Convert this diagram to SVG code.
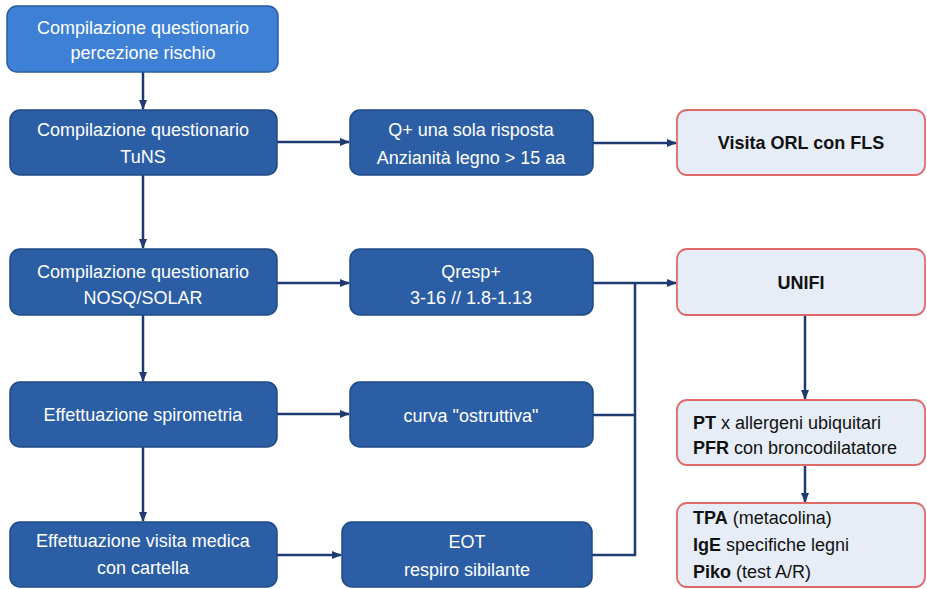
<svg xmlns="http://www.w3.org/2000/svg" width="927" height="589" viewBox="0 0 927 589">
<style>
.dk{fill:#2c5ea5;stroke:#1f4a85;stroke-width:1.5}
.lt{fill:#3e80d6;stroke:#2a5ca3;stroke-width:1.5}
.rd{fill:#e6edf6;stroke:#e06a6a;stroke-width:1.8}
.w{font-family:"Liberation Sans",Arial,sans-serif;font-size:18px;fill:#ffffff;text-anchor:middle}
.b{font-family:"Liberation Sans",Arial,sans-serif;font-size:18px;fill:#111111;text-anchor:middle;font-weight:bold}
.l{font-family:"Liberation Sans",Arial,sans-serif;font-size:18px;fill:#111111}
.l tspan.bb{font-weight:bold}
.c{fill:none;stroke:#1e3a70;stroke-width:2.5}
</style>
<defs>
<marker id="ah" markerUnits="userSpaceOnUse" markerWidth="10" markerHeight="10" viewBox="0 0 10 10" refX="9" refY="5" orient="auto">
<path d="M0,1 L10,5 L0,9 Z" fill="#1e3a70"/>
</marker>
</defs>
<rect width="927" height="589" fill="#ffffff"/>
<g id="connectors">
<line class="c" x1="143" y1="72" x2="143" y2="109" marker-end="url(#ah)"/>
<line class="c" x1="143" y1="175" x2="143" y2="248" marker-end="url(#ah)"/>
<line class="c" x1="143" y1="315" x2="143" y2="381" marker-end="url(#ah)"/>
<line class="c" x1="143" y1="447" x2="143" y2="521" marker-end="url(#ah)"/>
<line class="c" x1="277" y1="142" x2="349" y2="142" marker-end="url(#ah)"/>
<line class="c" x1="277" y1="283" x2="349" y2="283" marker-end="url(#ah)"/>
<line class="c" x1="277" y1="414" x2="349" y2="414" marker-end="url(#ah)"/>
<line class="c" x1="277" y1="555" x2="341" y2="555" marker-end="url(#ah)"/>
<line class="c" x1="593" y1="143" x2="676" y2="143" marker-end="url(#ah)"/>
<line class="c" x1="593" y1="283" x2="676" y2="283" marker-end="url(#ah)"/>
<polyline class="c" points="593,415 635,415"/>
<polyline class="c" points="592,555 635,555 635,283"/>
<line class="c" x1="805" y1="315" x2="805" y2="399" marker-end="url(#ah)"/>
<line class="c" x1="805" y1="465" x2="805" y2="502" marker-end="url(#ah)"/>
</g>
<g id="n1"><rect class="lt" x="7" y="6" width="271" height="66" rx="10"/>
<text class="w" x="143" y="34">Compilazione questionario</text><text class="w" x="143" y="59">percezione rischio</text></g>
<g id="n2"><rect class="dk" x="10" y="110" width="267" height="65" rx="10"/>
<text class="w" x="143" y="136">Compilazione questionario</text><text class="w" x="143" y="163">TuNS</text></g>
<g id="n3"><rect class="dk" x="10" y="249" width="267" height="66" rx="10"/>
<text class="w" x="143" y="278">Compilazione questionario</text><text class="w" x="143" y="304">NOSQ/SOLAR</text></g>
<g id="n4"><rect class="dk" x="10" y="382" width="267" height="65" rx="10"/>
<text class="w" x="143" y="421">Effettuazione spirometria</text></g>
<g id="n5"><rect class="dk" x="10" y="522" width="267" height="65" rx="10"/>
<text class="w" x="143" y="547">Effettuazione visita medica</text><text class="w" x="143" y="574">con cartella</text></g>
<g id="m1"><rect class="dk" x="350" y="110" width="243" height="65" rx="10"/>
<text class="w" x="471" y="136">Q+ una sola risposta</text><text class="w" x="471" y="164">Anzianità legno &gt; 15 aa</text></g>
<g id="m2"><rect class="dk" x="350" y="249" width="243" height="66" rx="10"/>
<text class="w" x="471" y="278">Qresp+</text><text class="w" x="471" y="304">3-16 // 1.8-1.13</text></g>
<g id="m3"><rect class="dk" x="350" y="382" width="243" height="65" rx="10"/>
<text class="w" x="471" y="422">curva "ostruttiva"</text></g>
<g id="m4"><rect class="dk" x="342" y="522" width="250" height="65" rx="10"/>
<text class="w" x="467" y="548">EOT</text><text class="w" x="467" y="576">respiro sibilante</text></g>
<g id="r1"><rect class="rd" x="677" y="110" width="248" height="65" rx="10"/>
<text class="b" x="801" y="149">Visita ORL con FLS</text></g>
<g id="r2"><rect class="rd" x="677" y="249" width="248" height="66" rx="10"/>
<text class="b" x="801" y="289">UNIFI</text></g>
<g id="r3"><rect class="rd" x="677" y="400" width="248" height="65" rx="10"/>
<text class="l" x="693" y="429"><tspan class="bb">PT</tspan> x allergeni ubiquitari</text>
<text class="l" x="693" y="454"><tspan class="bb">PFR</tspan> con broncodilatatore</text></g>
<g id="r4"><rect class="rd" x="677" y="503" width="248" height="84" rx="10"/>
<text class="l" x="693" y="524"><tspan class="bb">TPA</tspan> (metacolina)</text>
<text class="l" x="693" y="551"><tspan class="bb">IgE</tspan> specifiche legni</text>
<text class="l" x="693" y="578"><tspan class="bb">Piko</tspan> (test A/R)</text></g>
</svg>
